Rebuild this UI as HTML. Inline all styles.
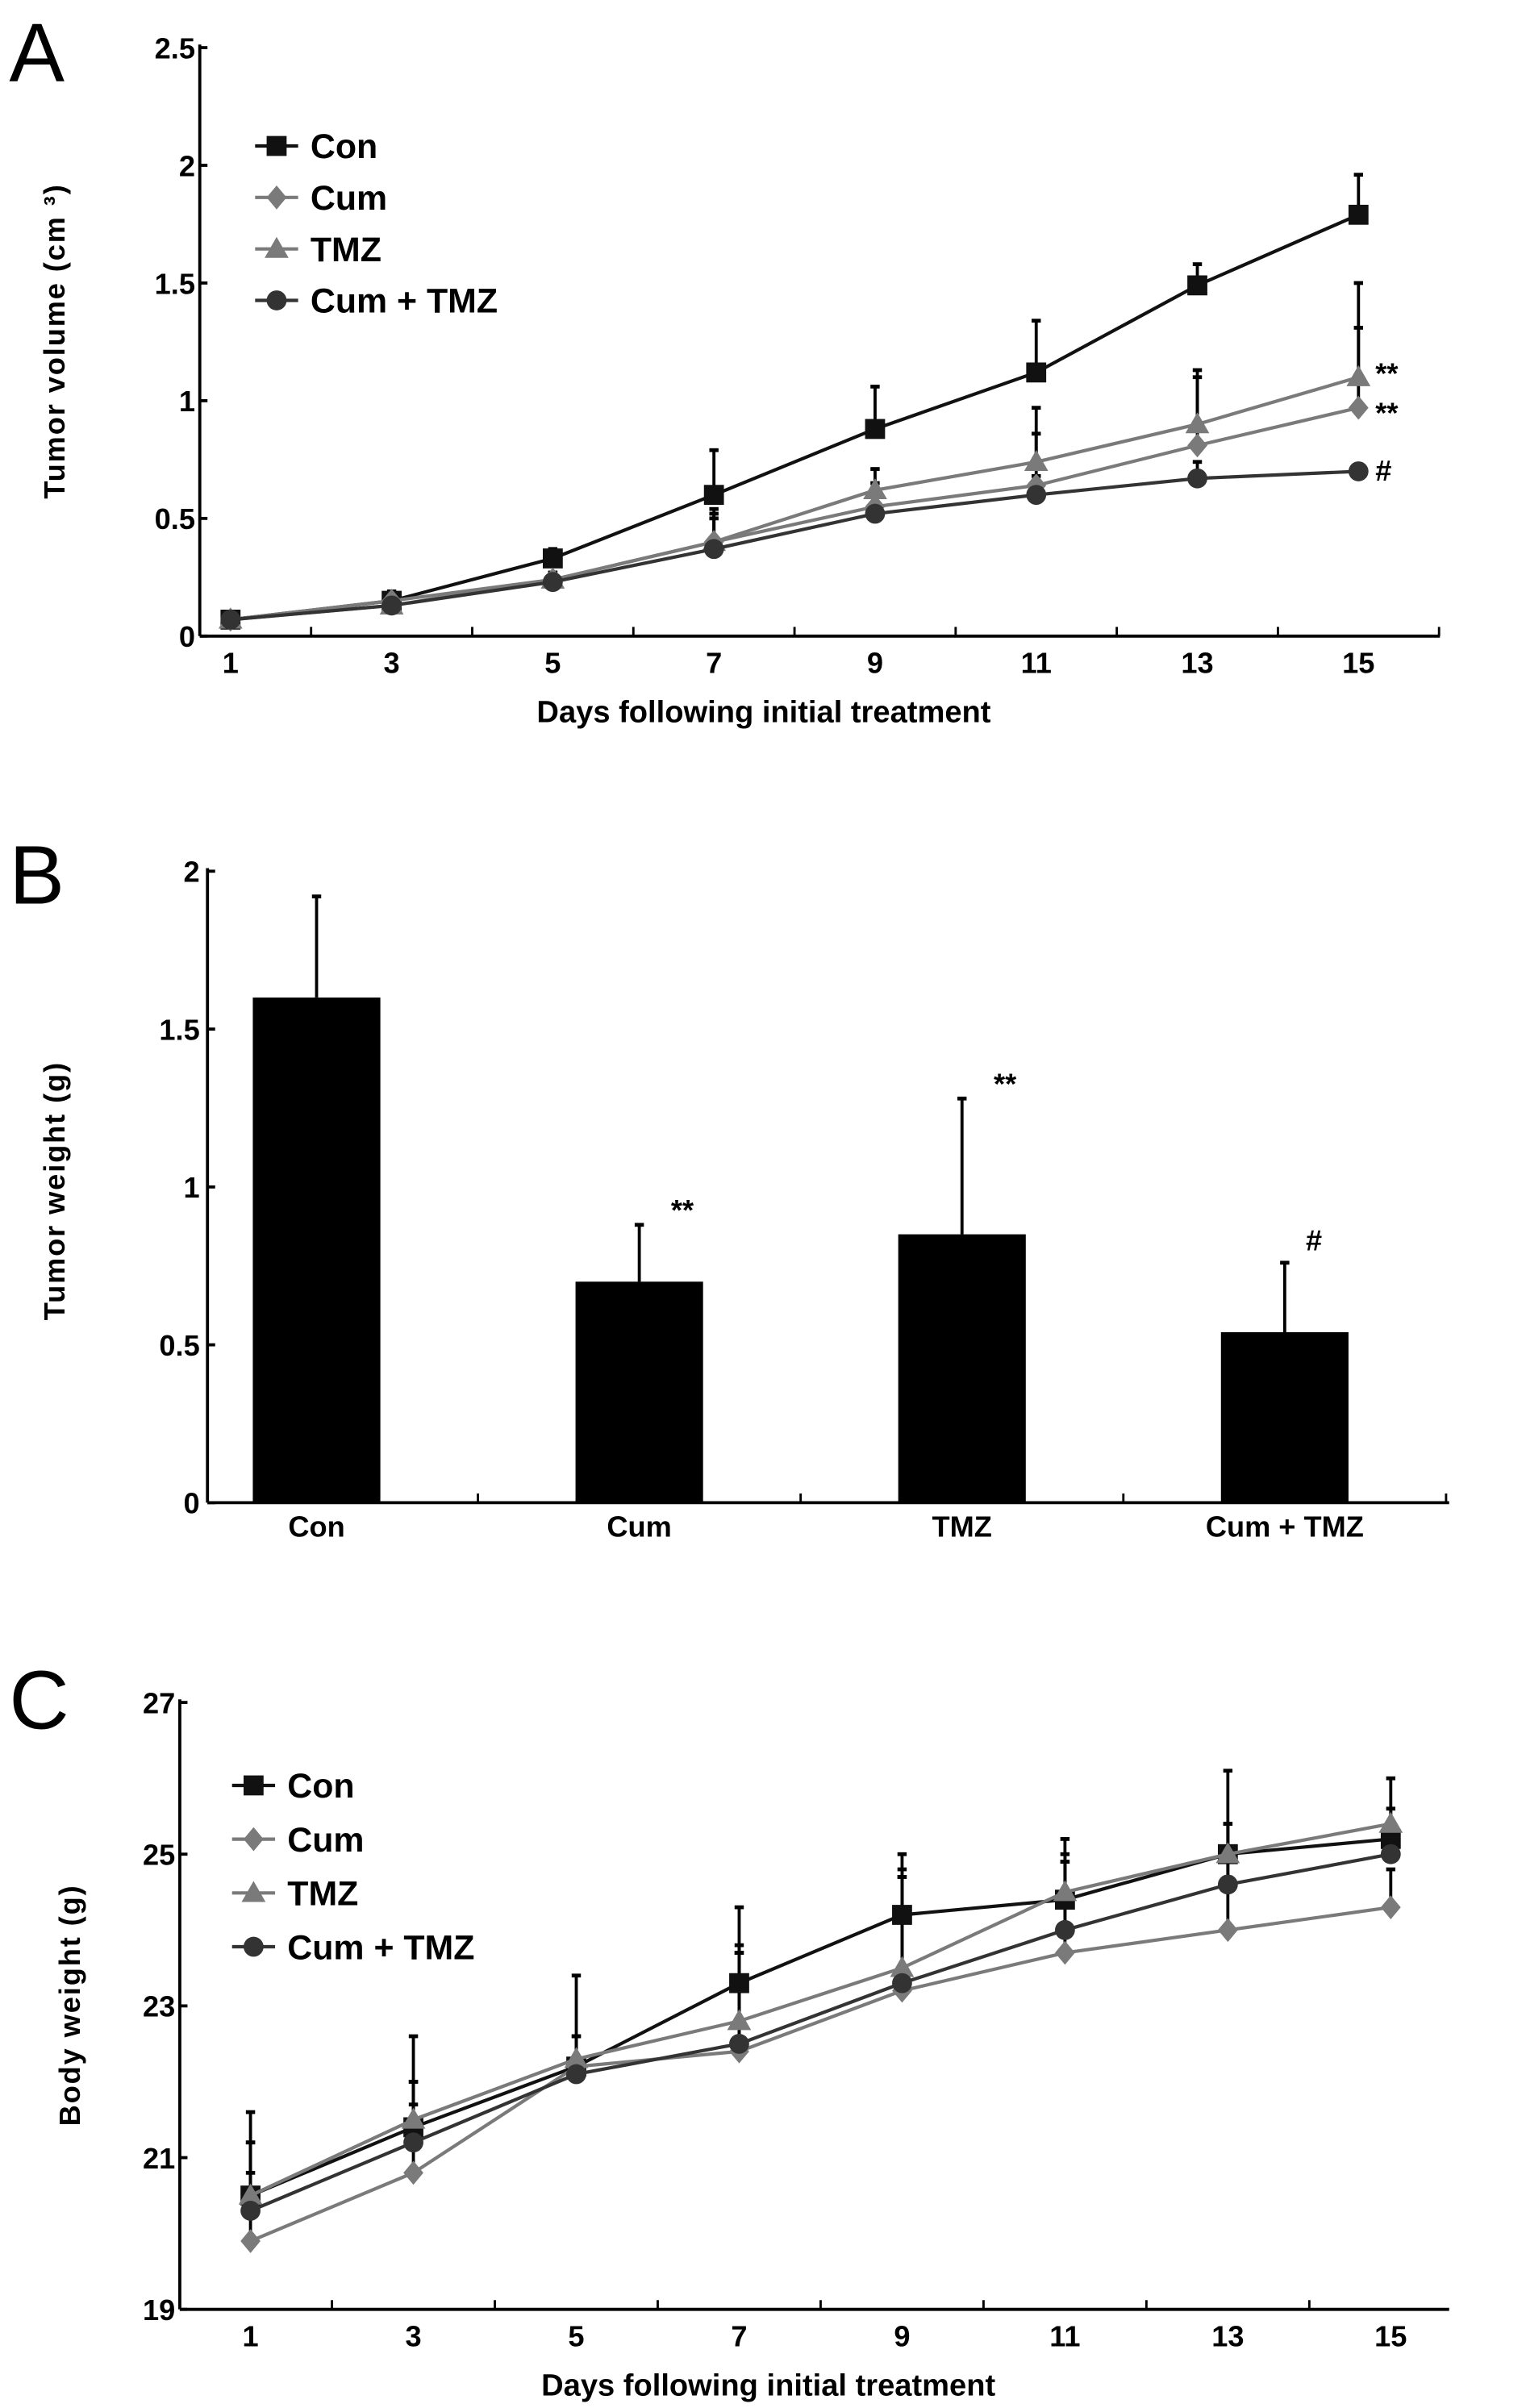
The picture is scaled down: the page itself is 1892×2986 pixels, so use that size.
<!DOCTYPE html>
<html><head><meta charset="utf-8">
<style>
html,body{margin:0;padding:0;background:#fff;}
svg{display:block;}
text{font-family:"Liberation Sans",sans-serif;font-weight:bold;}
</style></head>
<body>
<svg id="fig" width="1892" height="2986" viewBox="0 0 993 1567.2" xmlns="http://www.w3.org/2000/svg">
<rect width="993" height="1568" fill="#fff"/>
<text x="6" y="53" font-size="54" style="font-weight:normal">A</text>
<text x="6" y="588" font-size="54" style="font-weight:normal">B</text>
<text x="6" y="1125" font-size="54" style="font-weight:normal">C</text>
<g id="pa"></g>
<g id="pb"></g>
<g id="pc"></g>
</svg>
<script>
// ---- Panel A data ----
const days = [1,3,5,7,9,11,13,15];
const volTicks = [0,0.5,1,1.5,2,2.5];
const volTickLabels = ["0","0.5","1","1.5","2","2.5"];
const volCon = [0.07,0.15,0.33,0.60,0.88,1.12,1.49,1.79];
const volConErr = [0.08,0.19,0.37,0.79,1.06,1.34,1.58,1.96];
const volCum = [0.07,0.15,0.24,0.40,0.55,0.64,0.81,0.97];
const volCumErr = [0.08,0.17,0.27,0.52,0.65,0.86,1.10,1.31];
const volTmz = [0.07,0.13,0.24,0.40,0.62,0.74,0.90,1.10];
const volTmzErr = [0.08,0.16,0.27,0.54,0.71,0.97,1.13,1.50];
const volCT = [0.07,0.13,0.23,0.37,0.52,0.60,0.67,0.70];
const volCTErr = [0.08,0.15,0.26,0.50,0.55,0.68,0.74,0.70];
// ---- Panel B data ----
const groups = ["Con","Cum","TMZ","Cum + TMZ"];
const weightVals = [1.6,0.70,0.85,0.54];
const weightErr = [1.92,0.88,1.28,0.76];
const weightTicks = [0,0.5,1,1.5,2];
const weightTickLabels = ["0","0.5","1","1.5","2"];
const weightMarks = ["","**","**","#"];
// ---- Panel C data ----
const bwTicks = [19,21,23,25,27];
const bwTickLabels = ["19","21","23","25","27"];
const bwCon = [20.5,21.4,22.2,23.3,24.2,24.4,25.0,25.2];
const bwConErr = [21.6,22.6,23.4,24.3,25.0,25.2,26.1,26.0];
const bwCum = [19.9,20.8,22.2,22.4,23.2,23.7,24.0,24.3];
const bwCumErr = [21.2,22.0,22.6,23.7,24.7,24.9,25.0,24.8];
const bwTmz = [20.5,21.5,22.3,22.8,23.5,24.5,25.0,25.4];
const bwTmzErr = [21.2,22.0,22.6,23.8,24.8,25.0,25.4,25.6];
const bwCT = [20.3,21.2,22.1,22.5,23.3,24.0,24.6,25.0];
const bwCTErr = [20.8,21.7,22.1,23.7,24.7,24.9,25.4,24.8];
const seriesNames = ["Con","Cum","TMZ","Cum + TMZ"];

const NS="http://www.w3.org/2000/svg";
function mk(parent,tag,attrs,txt){const e=document.createElementNS(NS,tag);for(const k in attrs)e.setAttribute(k,attrs[k]);if(txt!==undefined)e.textContent=txt;parent.appendChild(e);return e;}
const styles=[{c:"#111",m:"square"},{c:"#7a7a7a",m:"diamond"},{c:"#7a7a7a",m:"triangle"},{c:"#333",m:"circle"}];
function marker(g,type,x,y,c,s){
  let e;
  if(type==="square") e=mk(g,"rect",{x:x-s/2,y:y-s/2,width:s,height:s,fill:c});
  else if(type==="diamond") e=mk(g,"polygon",{points:`${x},${y-s*0.6} ${x+s*0.5},${y} ${x},${y+s*0.6} ${x-s*0.5},${y}`,fill:c});
  else if(type==="triangle") e=mk(g,"polygon",{points:`${x},${y-s*0.6} ${x+s*0.6},${y+s*0.45} ${x-s*0.6},${y+s*0.45}`,fill:c});
  else e=mk(g,"circle",{cx:x,cy:y,r:s*0.5,fill:c});
  return e;
}
function lineChart(g,o){
  const X=d=>o.x1+(d-1)/14*(o.x15-o.x1);
  const Y=v=>o.y0+(v-o.v0)/(o.vTop-o.v0)*(o.yTop-o.y0);
  let ax=mk(g,"line",{x1:o.ax,y1:o.yTop-2,x2:o.ax,y2:o.y0,stroke:"#000","stroke-width":2});
  
  
  let bx=mk(g,"line",{x1:o.ax,y1:o.y0,x2:o.xEnd,y2:o.y0,stroke:"#000","stroke-width":2});
  
  
  o.ticks.forEach((t,i)=>{
    mk(g,"line",{x1:o.ax,y1:Y(t),x2:o.ax+5,y2:Y(t),stroke:"#000","stroke-width":2});
    const tl=mk(g,"text",{x:o.ax-3,y:Y(t)+7,"font-size":19,"text-anchor":"end"},o.tickLabels[i]);
    
    
  });
  for(let d=2;d<=16;d+=2){ if(X(d)<=o.xEnd) mk(g,"line",{x1:X(d),y1:o.y0,x2:X(d),y2:o.y0-6,stroke:"#000","stroke-width":1.5});}
  days.forEach(d=>{
    const tl=mk(g,"text",{x:X(d),y:o.y0+24,"font-size":19,"text-anchor":"middle"},String(d));
    
    
  });
  const xt=mk(g,"text",{x:o.xTitleX,y:o.y0+56,"font-size":20,"text-anchor":"middle"},"Days following initial treatment");
  
  
  const yt=mk(g,"text",{x:0,y:0,"font-size":19,"text-anchor":"middle",transform:`translate(${o.yTitleX},${o.yTitleY}) rotate(-90)`,"letter-spacing":"1"},o.yTitle);
  
  
  o.series.forEach((s,si)=>{
    const sg=mk(g,"g",{});
    
    
    s.err.forEach((e,i)=>{
      if(e>s.v[i]){
        mk(sg,"line",{x1:X(days[i]),y1:Y(s.v[i]),x2:X(days[i]),y2:Y(e),stroke:"#000","stroke-width":2});
        mk(sg,"line",{x1:X(days[i])-3,y1:Y(e),x2:X(days[i])+3,y2:Y(e),stroke:"#000","stroke-width":2.5});
      }
    });
  });
  o.series.forEach((s,si)=>{
    const st=styles[si];
    const pts=s.v.map((v,i)=>X(days[i])+","+Y(v)).join(" ");
    const pl=mk(g,"polyline",{points:pts,fill:"none",stroke:st.c,"stroke-width":2.2});
    
    
    s.v.forEach((v,i)=>{
      const m=marker(g,st.m,X(days[i]),Y(v),st.c,13);
      
      
    });
  });
  seriesNames.forEach((n,i)=>{
    const lg=mk(g,"g",{});
    
    
    const y=o.legY+i*o.legDy;
    mk(lg,"line",{x1:o.legX-14,y1:y,x2:o.legX+14,y2:y,stroke:styles[i].c,"stroke-width":2.2});
    marker(lg,styles[i].m,o.legX,y,styles[i].c,13);
    mk(lg,"text",{x:o.legX+22,y:y+8,"font-size":22.5},n);
  });
  (o.notes||[]).forEach(n=>{
    const t=mk(g,"text",{x:X(15)+11,y:Y(n.v)+n.dy,"font-size":19},n.t);
    
    
  });
}
lineChart(document.getElementById('pa'),{
  ax:130,x1:150,x15:884,xEnd:937,y0:414,yTop:31,v0:0,vTop:2.5,
  ticks:volTicks,tickLabels:volTickLabels,xTitleX:497,yTitleX:42,yTitleY:222,
  yTitle:"Tumor volume (cm ³)",legX:180,legY:95,legDy:33.5,
  series:[{v:volCon,err:volConErr},{v:volCum,err:volCumErr},{v:volTmz,err:volTmzErr},{v:volCT,err:volCTErr}],
  notes:[{v:volTmz[7],dy:4,t:"**"},{v:volCum[7],dy:10,t:"**"},{v:volCT[7],dy:6,t:"#"}]
});
lineChart(document.getElementById('pc'),{
  ax:117,x1:163,x15:905,xEnd:943,y0:1503,yTop:1108,v0:19,vTop:27,
  ticks:bwTicks,tickLabels:bwTickLabels,xTitleX:500,yTitleX:52,yTitleY:1305,
  yTitle:"Body weight (g)",legX:165,legY:1162,legDy:35,
  series:[{v:bwCon,err:bwConErr},{v:bwCum,err:bwCumErr},{v:bwTmz,err:bwTmzErr},{v:bwCT,err:bwCTErr}]
});
(function(){
  const g=document.getElementById('pb');
  const ax=135,y0=978,yTop=567,xEnd=943;
  const Y=v=>y0-v/2*(y0-yTop);
  const Xc=i=>206+i*210;
  let a=mk(g,"line",{x1:ax,y1:yTop-2,x2:ax,y2:y0,stroke:"#000","stroke-width":2});
  
  
  let b=mk(g,"line",{x1:ax,y1:y0,x2:xEnd,y2:y0,stroke:"#000","stroke-width":2});
  
  
  weightTicks.forEach((t,i)=>{
    mk(g,"line",{x1:ax,y1:Y(t),x2:ax+5,y2:Y(t),stroke:"#000","stroke-width":2});
    const tl=mk(g,"text",{x:ax-5,y:Y(t)+7,"font-size":19,"text-anchor":"end"},weightTickLabels[i]);
    
    
  });
  for(let i=1;i<=4;i++){mk(g,"line",{x1:Xc(i)-105,y1:y0,x2:Xc(i)-105,y2:y0-6,stroke:"#000","stroke-width":1.5});}
  groups.forEach((n,i)=>{
    mk(g,"line",{x1:Xc(i),y1:Y(weightVals[i]),x2:Xc(i),y2:Y(weightErr[i]),stroke:"#000","stroke-width":2});
    mk(g,"line",{x1:Xc(i)-3,y1:Y(weightErr[i]),x2:Xc(i)+3,y2:Y(weightErr[i]),stroke:"#000","stroke-width":2.5});
    const r=mk(g,"rect",{x:Xc(i)-41.5,y:Y(weightVals[i]),width:83,height:y0-Y(weightVals[i]),fill:"#000"});
    
    
    const tl=mk(g,"text",{x:Xc(i),y:y0+22,"font-size":19,"text-anchor":"middle"},n);
    
    
    if(weightMarks[i]){
      const isHash=weightMarks[i]==="#";
      const s=mk(g,"text",{x:Xc(i)+(isHash?19:28),y:Y(weightErr[i])+(isHash?-8:-3),"font-size":19,"text-anchor":"middle"},weightMarks[i]);
      
      
    }
  });
  const yt=mk(g,"text",{x:0,y:0,"font-size":19,"text-anchor":"middle",transform:"translate(42,775) rotate(-90)","letter-spacing":"1"},"Tumor weight (g)");
  
  
})();
</script>
</body></html>
